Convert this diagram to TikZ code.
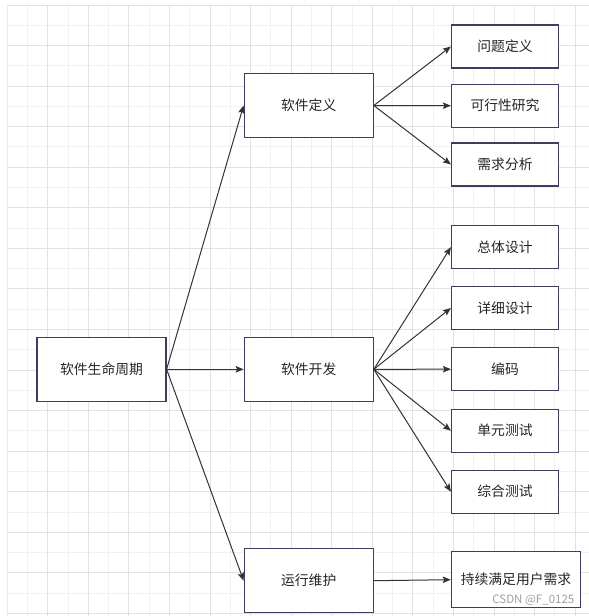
\documentclass[tikz,border=0pt]{standalone}
\usepackage{fontspec}
\setmainfont{Noto Sans CJK SC}
\usepackage{tikz}
\usetikzlibrary{arrows.meta}
\definecolor{gridminor}{HTML}{F1F1F1}
\definecolor{gridmajor}{HTML}{E2E2E2}
\definecolor{boxline}{HTML}{3B3E5E}
\definecolor{arrowc}{HTML}{333333}
\definecolor{textc}{HTML}{262626}
\definecolor{markc}{HTML}{A0A0A0}

\begin{document}
\begin{tikzpicture}[x=1pt, y=-1pt,
  box/.style={draw=boxline, fill=white, line width=1.2pt, inner sep=0pt,
    minimum width=129pt, minimum height=64pt, text=textc,
    font=\fontsize{13.8pt}{16pt}\selectfont},
  leaf/.style={box, minimum width=107pt, minimum height=43pt},
  link/.style={arrowc, line width=1pt, -{Stealth[length=8pt, width=6.5pt, inset=1.5pt]}}]
  \useasboundingbox (0,0) rectangle (589,616);
  \fill[white] (0,0) rectangle (589,616);
  % background grid
  \begin{scope}
    \clip (7.3,5) rectangle (589,616);
    \foreach \i in {1,3,...,29} {
      \draw[gridminor, line width=1pt] ({7.3+20.28*\i},5) -- ({7.3+20.28*\i},616);
      \draw[gridminor, line width=1pt] (7.3,{5+20.28*\i}) -- (589,{5+20.28*\i});
    }
    \foreach \i in {0,2,...,30} {
      \draw[gridmajor, line width=1pt] ({7.3+20.28*\i},5) -- ({7.3+20.28*\i},616);
      \draw[gridmajor, line width=1pt] (7.3,{5+20.28*\i}) -- (589,{5+20.28*\i});
    }
  \end{scope}

  \node[box] (life) at (101.5,369.3) {软件生命周期};
  \node[box] (def) at (308.7,105.5) {软件定义};
  \node[box] (dev) at (308.7,369.3) {软件开发};
  \node[box] (ops) at (308.7,580.7) {运行维护};

  \node[leaf] (q1) at (505,46.5) {问题定义};
  \node[leaf] (q2) at (505,105.7) {可行性研究};
  \node[leaf] (q3) at (505,164.5) {需求分析};

  \node[leaf] (d1) at (505,247.2) {总体设计};
  \node[leaf] (d2) at (505,308) {详细设计};
  \node[leaf] (d3) at (505,369.2) {编码};
  \node[leaf] (d4) at (505,430.7) {单元测试};
  \node[leaf] (d5) at (505,491.7) {综合测试};

  \node[leaf, minimum width=129.4pt, minimum height=56pt] (keep) at (516,579.7) {持续满足用户需求};
  \node[anchor=east, inner sep=0pt, text=markc, font=\fontsize{11.5pt}{13pt}\selectfont] (mark) at (574.5,600.5) {CSDN @F\_0125};

  \foreach \n in {def,dev,ops}
    \draw[link] (life.east) -- (\n.west);
  \foreach \n in {q1,q2,q3}
    \draw[link] (def.east) -- (\n.west);
  \foreach \n in {d1,d2,d3,d4,d5}
    \draw[link] (dev.east) -- (\n.west);
  \draw[link] (ops.east) -- (keep.west);
\end{tikzpicture}
\end{document}
